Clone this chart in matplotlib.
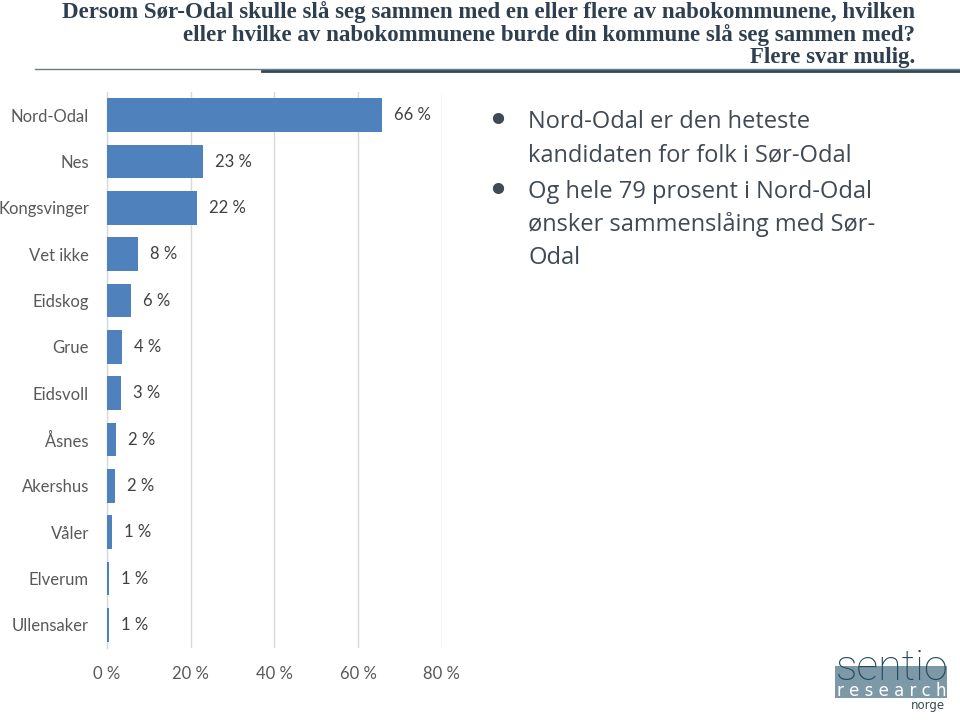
import matplotlib
matplotlib.use("Agg")
import matplotlib.pyplot as plt
from matplotlib.patches import Rectangle
from matplotlib.lines import Line2D

categories = ["Nord-Odal", "Nes", "Kongsvinger", "Vet ikke", "Eidskog", "Grue",
              "Eidsvoll", "Åsnes", "Akershus", "Våler", "Elverum", "Ullensaker"]
values = [65.7, 22.9, 21.6, 7.5, 5.7, 3.6, 3.3, 2.2, 1.9, 1.2, 0.55, 0.55]
value_labels = ["66 %", "23 %", "22 %", "8 %", "6 %", "4 %", "3 %", "2 %", "2 %", "1 %", "1 %", "1 %"]
xticks = [0, 20, 40, 60, 80]
xtick_labels = ["0 %", "20 %", "40 %", "60 %", "80 %"]

title_lines = ["Dersom Sør-Odal skulle slå seg sammen med en eller flere av nabokommunene, hvilken",
               "eller hvilke av nabokommunene burde din kommune slå seg sammen med?",
               "Flere svar mulig."]
bullets = [["Nord-Odal er den heteste", "kandidaten for folk i Sør-Odal"],
           ["Og hele 79 prosent i Nord-Odal", "ønsker sammenslåing med Sør-", "Odal"]]

W, H = 960, 725
fig = plt.figure(figsize=(W / 100, H / 100), dpi=100)
fig.patch.set_facecolor("white")

ax = fig.add_axes([107 / W, 1 - 648 / H, (441.7 - 107) / W, (648 - 92) / H])
y = list(range(len(categories)))
ax.barh(y, values, height=0.72, color="#4f81bd", zorder=3)
ax.set_xlim(0, 80)
ax.set_ylim(len(categories) - 0.5, -0.5)
ax.set_xticks(xticks)
ax.set_xticklabels(xtick_labels)
ax.set_yticks(y)
ax.set_yticklabels(categories)
for s in ["top", "right", "bottom"]:
    ax.spines[s].set_visible(False)
ax.spines["left"].set_color("#d9d9d9")
ax.spines["left"].set_linewidth(1.0)
ax.grid(axis="x", color="#d9d9d9", linewidth=1.0, zorder=0)
ax.tick_params(axis="both", length=0, colors="#595959", labelsize=12)
ax.tick_params(axis="x", pad=13)
ax.tick_params(axis="y", pad=13)
for lab in ax.get_xticklabels() + ax.get_yticklabels():
    lab.set_fontfamily("Lato")
    lab.set_color("#595959")

for yi, v, lab in zip(y, values, value_labels):
    ax.annotate(lab, xy=(v, yi), xytext=(8.6, 0), textcoords="offset points",
                va="center", ha="left", fontsize=12, color="#404040", fontfamily="Lato")

# Title
ty = [12, 35, 58]
for t, yy in zip(title_lines, ty):
    fig.text(915 / W, 1 - yy / H, t, ha="right", va="center", fontsize=16.5,
             fontweight="bold", fontfamily="Liberation Serif", color="#2f3f4f")

fig.add_artist(Line2D([35 / W, 1.0], [1 - 69 / H, 1 - 69 / H], color="#6b7b88", linewidth=1.0))
fig.add_artist(Line2D([262 / W, 1.0], [1 - 70.5 / H, 1 - 70.5 / H], color="#2e4a5a", linewidth=2.0))

# Bullets
line_y = [[122, 155], [192, 225, 258]]
for blines, ys in zip(bullets, line_y):
    fig.text(498 / W, 1 - ys[0] / H, "•", ha="center", va="center", fontsize=28,
             fontfamily="DejaVu Sans", color="#3f4a55")
    for t, yy in zip(blines, ys):
        fig.text(528 / W, 1 - yy / H, t, ha="left", va="center", fontsize=17,
                 fontfamily="Open Sans", color="#3f4a55")

# Logo
fig.add_artist(Rectangle((835 / W, 1 - 698 / H), (947 - 835) / W, 32 / H,
                         transform=fig.transFigure, facecolor="#7d98a6", edgecolor="none"))
fig.text(892 / W, 1 - 680 / H, "sentio", ha="center", va="baseline", fontsize=31,
         fontfamily="Roboto", fontweight="light", color="#23495a")
fig.text(892 / W, 1 - 690.5 / H, "r e s e a r c h", ha="center", va="center", fontsize=12,
         fontfamily="DejaVu Sans", color="white")
fig.text(928 / W, 1 - 706 / H, "norge", ha="center", va="center", fontsize=8.5,
         fontfamily="DejaVu Sans", color="#3a4a55")

fig.savefig("out.png", dpi=100, facecolor="white")
